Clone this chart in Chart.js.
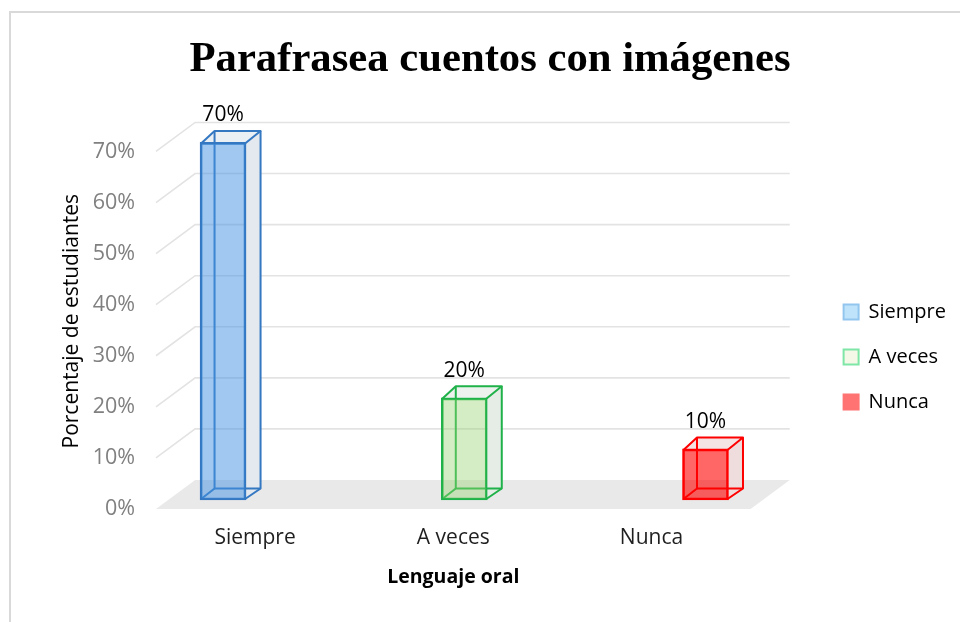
<!DOCTYPE html>
<html lang="es">
<head>
<meta charset="UTF-8">
<title>Parafrasea cuentos con imágenes</title>
<script src="https://cdn.jsdelivr.net/npm/chart.js@4"></script>
<style>
  html, body { margin: 0; padding: 0; background: #fff; overflow: hidden; }
  .frame {
    position: absolute;
    left: 9px;
    top: 11px;
    width: 1000px;
    height: 720px;
    border-left: 2px solid #d9d9d9;
    border-top: 2px solid #d9d9d9;
  }
  .frame canvas { position: absolute; left: 0; top: 0; }
</style>
</head>
<body>
<div class="frame">
  <canvas id="chart" width="958" height="688" style="width:958px;height:688px"></canvas>
</div>
<script>
// data
const categories = ['Siempre', 'A veces', 'Nunca'];
const percentages = [70, 20, 10];
const yTicks = [0, 10, 20, 30, 40, 50, 60, 70];

// looks
const FONT = "'Open Sans', sans-serif";
const barFill = ['rgba(65,145,225,0.5)', 'rgba(150,210,110,0.4)', 'rgba(255,0,0,0.6)'];
const barLine = ['#3578c2', '#20b24a', '#ff0000'];
const sideFill = ['#e3e9ef', '#e6ede6', '#efdcdc'];
const topFill = ['#ebf0f4', '#eef2ee', '#f4e4e4'];
const legendFill = ['#bfe3fa', '#f3f9e6', '#ff7373'];
const legendLine = ['#93c6ef', '#7ee6a6', '#ff7373'];

// fake 3D: offsets relative to the plane of the bar fronts
const depth = { dx: 14.5, dy: -11.5 };   // bar box depth
const floorFront = 9;                     // floor front edge sits 9px below
const wallBack = 20;                      // back wall sits 20px up
const slope = 1.35;                       // px right per px up

function line(ctx, pts) {
  ctx.beginPath();
  ctx.moveTo(pts[0][0], pts[0][1]);
  for (let i = 1; i < pts.length; i++) ctx.lineTo(pts[i][0], pts[i][1]);
  ctx.stroke();
}

function poly(ctx, pts, color) {
  ctx.beginPath();
  ctx.moveTo(pts[0][0], pts[0][1]);
  for (let i = 1; i < pts.length; i++) ctx.lineTo(pts[i][0], pts[i][1]);
  ctx.closePath();
  ctx.fillStyle = color;
  ctx.fill();
}

function boxOf(bar) {
  const L = bar.x - bar.width / 2, R = bar.x + bar.width / 2;
  return { L, R, T: bar.y, B: bar.base, dx: depth.dx, dy: depth.dy };
}

const box3d = {
  id: 'box3d',
  beforeDatasetsDraw(chart) {
    const { ctx, chartArea: a, scales: { y } } = chart;
    const run = (floorFront + wallBack) * slope;
    const y0 = y.getPixelForValue(0);
    ctx.save();

    // floor
    poly(ctx, [
      [a.left, y0 + floorFront], [a.right, y0 + floorFront],
      [a.right + run, y0 - wallBack], [a.left + run, y0 - wallBack]
    ], '#e9e9e9');

    // side wall + back wall grid lines
    ctx.strokeStyle = '#e3e3e3';
    ctx.lineWidth = 1.6;
    y.ticks.forEach(t => {
      if (t.value === 0) return;
      const p = y.getPixelForValue(t.value);
      line(ctx, [[a.left, p + floorFront], [a.left + run, p - wallBack], [a.right + run, p - wallBack]]);
    });

    // hidden faces and edges of every bar, seen through the front
    chart.data.datasets.forEach((ds, i) => {
      const bar = chart.getDatasetMeta(i).data[0];
      const { L, R, T, B, dx, dy } = boxOf(bar);
      poly(ctx, [[R, T], [R + dx, T + dy], [R + dx, B + dy], [R, B]], sideFill[i]);
      poly(ctx, [[L, T], [L + dx, T + dy], [R + dx, T + dy], [R, T]], topFill[i]);
      ctx.strokeStyle = barLine[i];
      ctx.lineWidth = 2;
      line(ctx, [[L + dx, T + dy], [L + dx, B + dy], [R + dx, B + dy]]);
      line(ctx, [[L + 1, B - 1], [L + dx, B + dy]]);
    });
    ctx.restore();
  },
  afterDatasetsDraw(chart) {
    const { ctx } = chart;
    ctx.save();
    chart.data.datasets.forEach((ds, i) => {
      const bar = chart.getDatasetMeta(i).data[0];
      const { L, R, T, B, dx, dy } = boxOf(bar);
      ctx.strokeStyle = barLine[i];
      ctx.lineWidth = 2;
      ctx.lineJoin = 'round';
      line(ctx, [[L + 1, T + 1], [L + dx, T + dy], [R + dx, T + dy], [R - 1, T + 1]]);
      line(ctx, [[R + dx, T + dy], [R + dx, B + dy], [R - 1, B - 1]]);

      // value label
      ctx.fillStyle = '#000';
      ctx.font = '21px ' + FONT;
      ctx.textAlign = 'center';
      ctx.textBaseline = 'middle';
      ctx.fillText(percentages[i] + '%', bar.x, T - 27);
    });
    ctx.restore();
  }
};

new Chart(document.getElementById('chart'), {
  type: 'bar',
  data: {
    labels: categories,
    datasets: categories.map((c, i) => ({
      label: c,
      data: [{ x: i, y: percentages[i] }],
      xAxisID: 'xb',
      yAxisID: 'y',
      backgroundColor: barFill[i],
      borderColor: barLine[i],
      borderWidth: 2,
      borderSkipped: false,
      barThickness: 46,
      grouped: false,
      clip: false
    }))
  },
  options: {
    responsive: false,
    animation: false,
    layout: { padding: { left: 13, right: 13, top: 0, bottom: 0 } },
    plugins: {
      title: {
        display: true,
        text: 'Parafrasea cuentos con imágenes',
        color: '#000',
        font: { family: "'Liberation Serif', 'Times New Roman', serif", size: 42.7, weight: 'bold' },
        padding: { top: 21.5, bottom: 56.7 }
      },
      legend: {
        position: 'right',
        labels: {
          color: '#000',
          font: { family: FONT, size: 20 },
          boxWidth: 15,
          boxHeight: 15,
          padding: 25,
          generateLabels: chart => chart.data.datasets.map((ds, i) => ({
            text: ds.label,
            fillStyle: legendFill[i],
            strokeStyle: legendLine[i],
            lineWidth: 2,
            fontColor: '#000',
            hidden: false,
            datasetIndex: i
          }))
        }
      },
      tooltip: { enabled: false }
    },
    scales: {
      x: {
        type: 'category',
        position: 'bottom',
        offset: true,
        grid: { display: false, drawTicks: false },
        border: { display: false },
        ticks: { color: '#1f1f1f', font: { family: FONT, size: 21 }, padding: 25 },
        title: {
          display: true,
          text: 'Lenguaje oral',
          color: '#000',
          font: { family: FONT, size: 19.5, weight: 'bold' },
          padding: { top: 0, bottom: 112 }
        },
        afterFit: s => { s.height = 201; }
      },
      xb: {
        type: 'linear',
        display: false,
        offset: false,
        min: -0.278,
        max: 2.187
      },
      y: {
        min: 0,
        max: 70,
        grid: { display: false, drawTicks: false },
        border: { display: false },
        afterBuildTicks: s => { s.ticks = yTicks.map(v => ({ value: v })); },
        ticks: {
          color: '#808080',
          font: { family: FONT, size: 21.5 },
          padding: 21,
          labelOffset: 9,
          callback: v => v + '%'
        },
        title: {
          display: true,
          text: 'Porcentaje de estudiantes',
          color: '#000',
          font: { family: FONT, size: 21 },
          padding: { top: 35.4, bottom: 0 }
        },
        afterFit: s => { s.width = 132; }
      },
      gap: {
        type: 'linear',
        position: 'right',
        grid: { display: false, drawTicks: false },
        border: { display: false },
        ticks: { display: false },
        afterFit: s => { s.width = 68; }
      }
    }
  },
  plugins: [box3d]
});
</script>
</body>
</html>
